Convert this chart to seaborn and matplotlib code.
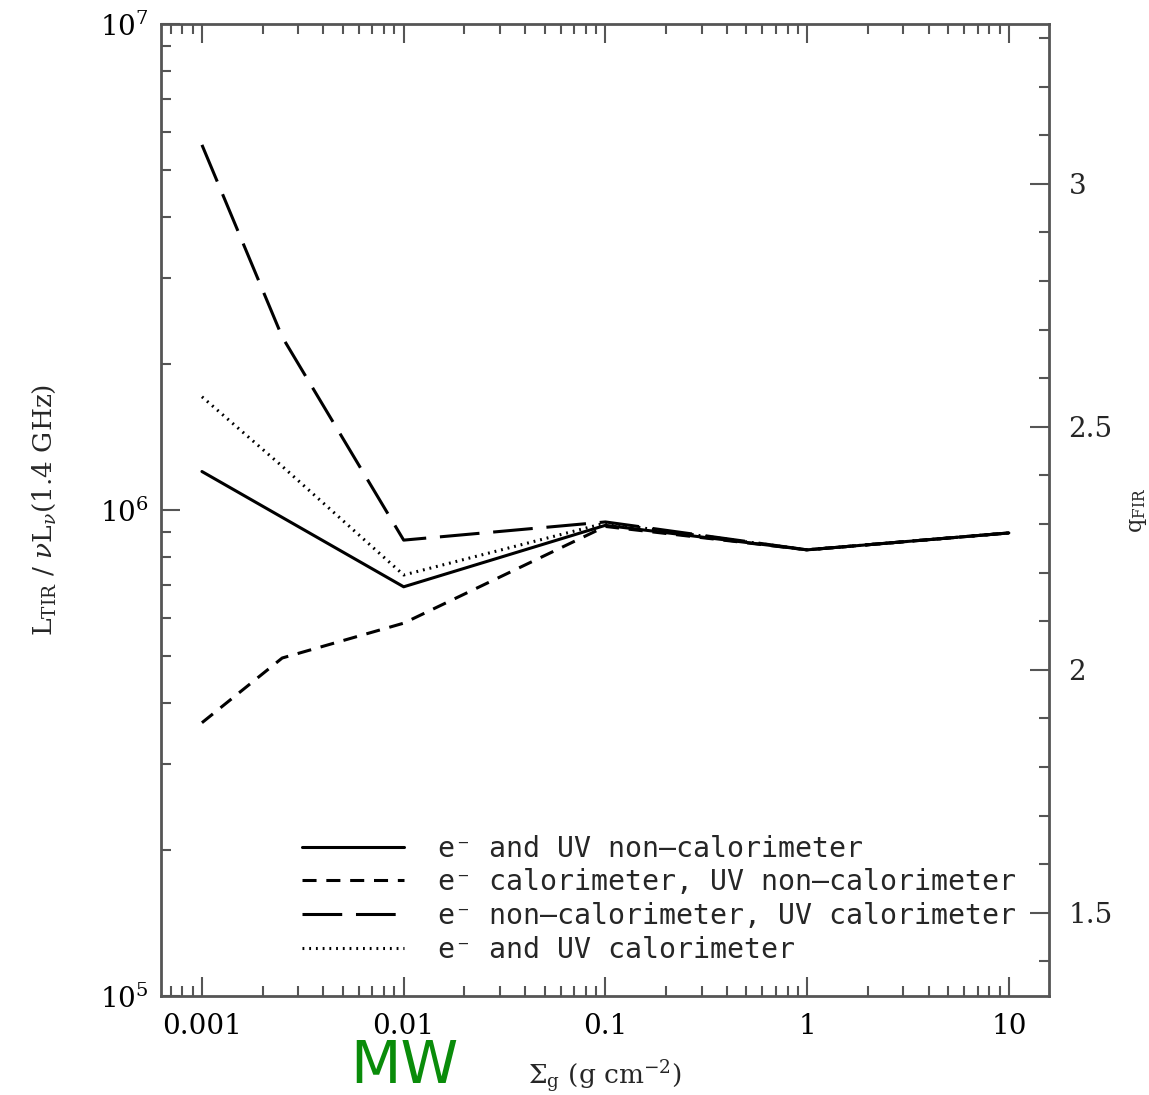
import numpy as np
import pandas as pd
import matplotlib
matplotlib.use("Agg")
import matplotlib.pyplot as plt
import matplotlib.ticker as mticker
from matplotlib.lines import Line2D
import seaborn as sns

# ---------------- data ----------------
labels = [
    "e\u207b and UV non\u2013calorimeter",
    "e\u207b calorimeter, UV non\u2013calorimeter",
    "e\u207b non\u2013calorimeter, UV calorimeter",
    "e\u207b and UV calorimeter",
]
x_solid = [0.001, 0.01, 0.1, 1, 10]
y_solid = [1.20e6, 6.95e5, 9.30e5, 8.28e5, 8.97e5]

x_short = [0.001, 0.0025, 0.01, 0.1, 1, 10]
y_short = [3.65e5, 4.96e5, 5.85e5, 9.25e5, 8.28e5, 8.97e5]

x_long = [0.001, 0.0025, 0.01, 0.1, 1, 10]
y_long = [5.64e6, 2.27e6, 8.67e5, 9.45e5, 8.28e5, 8.97e5]

x_dot = [0.001, 0.0025, 0.01, 0.1, 1, 10]
y_dot = [1.71e6, 1.23e6, 7.35e5, 9.40e5, 8.28e5, 8.97e5]

xtick_vals = [0.001, 0.01, 0.1, 1, 10]
xtick_labels = ["0.001", "0.01", "0.1", "1", "10"]
q_ticks = [1.5, 2, 2.5, 3]
q_tick_labels = ["1.5", "2", "2.5", "3"]
Q_OFFSET = 3.671  # q = log10(ratio) - offset

# ---------------- style ----------------
sns.set_theme(style="ticks")
plt.rcParams["font.family"] = ["DejaVu Serif"]
plt.rcParams["mathtext.fontset"] = "dejavuserif"
spine_col = "#555555"

df = pd.concat([
    pd.DataFrame({"sigma": x_solid, "ratio": y_solid, "model": labels[0]}),
    pd.DataFrame({"sigma": x_short, "ratio": y_short, "model": labels[1]}),
    pd.DataFrame({"sigma": x_long, "ratio": y_long, "model": labels[2]}),
    pd.DataFrame({"sigma": x_dot, "ratio": y_dot, "model": labels[3]}),
], ignore_index=True)

lw = 2.2
dash_map = {
    labels[0]: "",
    labels[1]: (4.6, 3.2),
    labels[2]: (13.0, 4.5),
    labels[3]: (0.6, 1.6),
}

fig = plt.figure(figsize=(11.49, 10.95), dpi=100)
ax = fig.add_axes([161 / 1149, 1 - 996 / 1095, (1049 - 161) / 1149, (996 - 24) / 1095])

sns.lineplot(data=df, x="sigma", y="ratio", hue="model", style="model",
             palette={l: "black" for l in labels}, dashes=dash_map,
             hue_order=labels, style_order=labels,
             linewidth=lw, sort=False, estimator=None, legend=False, ax=ax)

ax.set_xscale("log")
ax.set_yscale("log")
ax.set_xlim(10 ** -3.203, 10 ** 1.199)
ax.set_ylim(1e5, 1e7)

ax.set_xticks(xtick_vals)
ax.set_xticklabels(xtick_labels)
ax.xaxis.set_minor_locator(mticker.LogLocator(base=10, subs=np.arange(2, 10), numticks=30))
ax.xaxis.set_minor_formatter(mticker.NullFormatter())
ax.set_yticks([1e5, 1e6, 1e7])
ax.set_yticklabels([r"$10^{5}$", r"$10^{6}$", r"$10^{7}$"])
ax.yaxis.set_minor_locator(mticker.LogLocator(base=10, subs=np.arange(2, 10), numticks=30))
ax.yaxis.set_minor_formatter(mticker.NullFormatter())

ax.tick_params(axis="both", which="both", direction="in", colors="black",
               labelsize=20, width=1.5)
ax.tick_params(axis="x", which="both", top=True, bottom=True, color=spine_col)
ax.tick_params(axis="y", which="both", left=True, right=False, color=spine_col)
ax.tick_params(which="major", length=14)
ax.tick_params(which="minor", length=7.5)
ax.tick_params(axis="x", which="major", pad=12)
ax.tick_params(axis="y", which="major", pad=9)

for s in ax.spines.values():
    s.set_color(spine_col)
    s.set_linewidth(2.0)

ax.set_xlabel(r"$\Sigma_{\rm g}$ (g cm$^{-2}$)", fontsize=19, labelpad=14)
ax.set_ylabel(r"L$_{\rm TIR}$ / $\nu$L$_{\nu}$(1.4 GHz)", fontsize=19, labelpad=30)

# right axis: q
ax2 = ax.twinx()
ax2.set_ylim(np.log10(1e5) - Q_OFFSET, np.log10(1e7) - Q_OFFSET)
ax2.set_yticks(q_ticks)
ax2.set_yticklabels(q_tick_labels)
ax2.yaxis.set_minor_locator(mticker.MultipleLocator(0.1))
ax2.tick_params(axis="y", which="both", direction="in", right=True, left=False,
                color=spine_col, width=1.5, labelsize=20, pad=14)
ax2.tick_params(axis="y", which="major", length=14)
ax2.tick_params(axis="y", which="minor", length=7.5)
ax2.tick_params(axis="x", which="both", top=False, bottom=False, labeltop=False, labelbottom=False)
for s in ax2.spines.values():
    s.set_visible(False)
ax2.set_ylabel(r"q$_{\rm FIR}$", fontsize=16, labelpad=10)

# legend
handles = [Line2D([], [], color="black", linewidth=lw,
                  linestyle=(0, dash_map[l]) if dash_map[l] else "-")
           for l in labels]
leg = ax.legend(handles, labels, loc="upper left", bbox_to_anchor=(0.159, 0.166),
                frameon=False, borderpad=0, borderaxespad=0,
                handlelength=3.6, handletextpad=1.2, labelspacing=0.2,
                prop={"family": "DejaVu Sans Mono", "size": 20.3})

fig.text(350 / 1149, 1 - 1083 / 1095, "MW", color="#0a8c0a", fontsize=42,
         family="DejaVu Sans", ha="left", va="baseline")

fig.savefig("out.png", dpi=100)
